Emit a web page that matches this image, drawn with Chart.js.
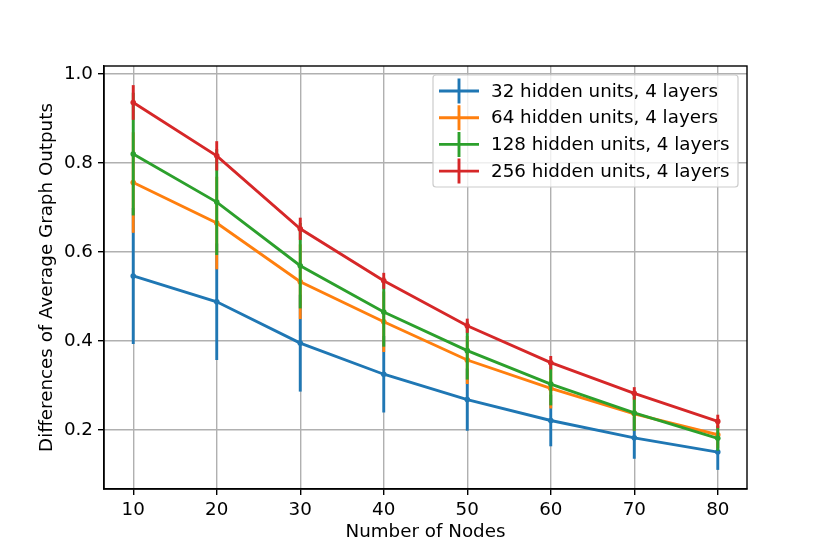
<!DOCTYPE html>
<html>
<head>
<meta charset="utf-8">
<script src="https://cdn.jsdelivr.net/npm/chart.js@4/dist/chart.umd.min.js"></script>
<style>
  html, body { margin: 0; padding: 0; background: #ffffff; }
  #wrap { width: 830px; height: 550px; }
</style>
</head>
<body>
<div id="wrap"><canvas id="myChart" width="830" height="550"></canvas></div>
<script>
// x values (number of nodes)
const nodes = [10, 20, 30, 40, 50, 60, 70, 80];

// mean differences
const mean32  = [0.546, 0.488, 0.395, 0.325, 0.268, 0.221, 0.182, 0.150];
const mean64  = [0.756, 0.665, 0.533, 0.443, 0.357, 0.293, 0.236, 0.189];
const mean128 = [0.820, 0.712, 0.569, 0.465, 0.378, 0.303, 0.238, 0.181];
const mean256 = [0.936, 0.816, 0.652, 0.535, 0.434, 0.351, 0.282, 0.219];

// error bar half lengths
const err32  = [0.153, 0.131, 0.109, 0.086, 0.070, 0.058, 0.047, 0.040];
const err64  = [0.113, 0.104, 0.084, 0.068, 0.054, 0.045, 0.038, 0.030];
const err128 = [0.138, 0.119, 0.096, 0.078, 0.065, 0.048, 0.040, 0.028];
const err256 = [0.039, 0.033, 0.025, 0.018, 0.016, 0.015, 0.014, 0.015];

const labels = ['32 hidden units, 4 layers', '64 hidden units, 4 layers',
                '128 hidden units, 4 layers', '256 hidden units, 4 layers'];
const colors = ['#1f77b4', '#ff7f0e', '#2ca02c', '#d62728'];
const means = [mean32, mean64, mean128, mean256];
const errs = [err32, err64, err128, err256];

const xTicks = [10, 20, 30, 40, 50, 60, 70, 80];
const yTicks = [0.2, 0.4, 0.6, 0.8, 1.0];

const FONT = 'DejaVu Sans';
const FS = 18.3;
const LW = 2.9;

// draw error bars of a dataset just before its line is drawn
const errorBars = {
    id: 'errorBars',
    beforeDatasetDraw(chart, args) {
        const i = args.index;
        const ctx = chart.ctx;
        const xs = chart.scales.x, ys = chart.scales.y;
        ctx.save();
        ctx.strokeStyle = colors[i];
        ctx.lineWidth = LW;
        ctx.lineCap = 'butt';
        for (let k = 0; k < nodes.length; k++) {
            const px = xs.getPixelForValue(nodes[k]);
            ctx.beginPath();
            ctx.moveTo(px, ys.getPixelForValue(means[i][k] - errs[i][k]));
            ctx.lineTo(px, ys.getPixelForValue(means[i][k] + errs[i][k]));
            ctx.stroke();
        }
        ctx.restore();
    }
};

// matplotlib-like legend inside the axes, upper right
const boxLegend = {
    id: 'boxLegend',
    afterDraw(chart) {
        const ctx = chart.ctx;
        const area = chart.chartArea;
        const w = 305, h = 112;
        const x0 = area.right - 9 - w, y0 = area.top + 9;
        ctx.save();
        ctx.fillStyle = 'rgba(255,255,255,0.8)';
        ctx.strokeStyle = '#cccccc';
        ctx.lineWidth = 1.2;
        ctx.beginPath();
        ctx.roundRect(x0, y0, w, h, 3);
        ctx.fill();
        ctx.stroke();
        ctx.font = FS + 'px "' + FONT + '"';
        ctx.textBaseline = 'middle';
        ctx.fillStyle = '#000000';
        for (let i = 0; i < labels.length; i++) {
            const cy = y0 + 16 + i * 26.7;
            ctx.strokeStyle = colors[i];
            ctx.lineWidth = LW;
            ctx.beginPath();
            ctx.moveTo(x0 + 6, cy);
            ctx.lineTo(x0 + 46, cy);
            ctx.moveTo(x0 + 26, cy - 12.5);
            ctx.lineTo(x0 + 26, cy + 12.5);
            ctx.stroke();
            ctx.fillText(labels[i], x0 + 58, cy + 1);
        }
        ctx.restore();
    }
};

// right and top spines
const frame = {
    id: 'frame',
    afterDatasetsDraw(chart) {
        const a = chart.chartArea;
        const c = chart.ctx;
        c.save();
        c.strokeStyle = '#000000';
        c.lineWidth = 1.4;
        c.strokeRect(a.left, a.top, a.right - a.left, a.bottom - a.top);
        c.restore();
    }
};

const datasets = labels.map((lab, i) => ({
    label: lab,
    data: nodes.map((n, k) => ({ x: n, y: means[i][k] })),
    borderColor: colors[i],
    backgroundColor: colors[i],
    borderWidth: LW,
    pointRadius: 2.8,
    pointHoverRadius: 2.8,
    pointBorderWidth: 0,
    fill: false,
    tension: 0,
    order: labels.length - i
}));

const ctx = document.getElementById('myChart').getContext('2d');
const myChart = new Chart(ctx, {
    type: 'line',
    data: { datasets: datasets },
    options: {
        responsive: false,
        animation: false,
        layout: { padding: { left: 0, right: 83, top: 66, bottom: 0 } },
        plugins: {
            legend: { display: false },
            tooltip: { enabled: false }
        },
        scales: {
            x: {
                type: 'linear',
                min: 6.5,
                max: 83.5,
                afterBuildTicks: axis => { axis.ticks = xTicks.map(v => ({ value: v })); },
                afterFit: axis => { axis.height = 61; },
                ticks: {
                    color: '#000000',
                    font: { family: FONT, size: FS },
                    padding: 4,
                    maxRotation: 0,
                    callback: v => String(v)
                },
                grid: { color: '#b0b0b0', lineWidth: 1.4, tickColor: '#000000', tickLength: 6 },
                border: { color: '#000000', width: 1.4 },
                title: {
                    display: true,
                    text: 'Number of Nodes',
                    color: '#000000',
                    font: { family: FONT, size: FS },
                    padding: { top: 0, bottom: 7 }
                }
            },
            y: {
                type: 'linear',
                min: 0.067,
                max: 1.018,
                afterBuildTicks: axis => { axis.ticks = yTicks.map(v => ({ value: v })); },
                afterFit: axis => { axis.width = 104; },
                ticks: {
                    color: '#000000',
                    font: { family: FONT, size: FS },
                    padding: 5,
                    callback: v => v.toFixed(1)
                },
                grid: { color: '#b0b0b0', lineWidth: 1.4, tickColor: '#000000', tickLength: 6 },
                border: { color: '#000000', width: 1.4 },
                title: {
                    display: true,
                    text: 'Differences of Average Graph Outputs',
                    color: '#000000',
                    font: { family: FONT, size: FS },
                    padding: { top: 36, bottom: 0 }
                }
            }
        }
    },
    plugins: [errorBars, boxLegend, frame]
});
</script>
</body>
</html>
